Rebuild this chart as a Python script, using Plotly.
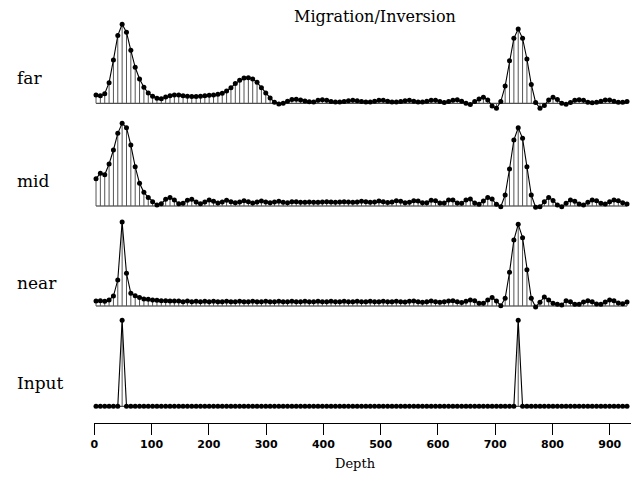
import plotly.graph_objects as go

# ---------------- data ----------------
depth_origin = 3.0
depth_step = 7.6
n_samples = 123
depth = [depth_origin + i * depth_step for i in range(n_samples)]

far = [0.097, 0.089, 0.112, 0.24, 0.504, 0.787, 0.919, 0.826, 0.616, 0.419,
       0.283, 0.186, 0.12, 0.081, 0.058, 0.054, 0.074, 0.089, 0.097, 0.097,
       0.089, 0.081, 0.078, 0.078, 0.081, 0.089, 0.093, 0.097, 0.105, 0.116,
       0.143, 0.182, 0.229, 0.267, 0.295, 0.298, 0.283, 0.244, 0.182, 0.12,
       0.062, 0.012, -0.008, 0.0, 0.023, 0.043, 0.047, 0.039, 0.027, 0.019,
       0.016,
       0.035, 0.04, 0.035, 0.02, 0.015, 0.015, 0.02, 0.03, 0.035, 0.03,
       0.02, 0.015, 0.015, 0.025, 0.035, 0.035, 0.025, 0.015, 0.015, 0.02,
       0.03, 0.035, 0.025, 0.015, 0.015, 0.025, 0.035, 0.035, 0.02, 0.01,
       0.02, 0.035, 0.04, 0.025, 0.0, -0.015, 0.02,
       0.05, 0.07, 0.038, -0.03, -0.058, 0.02, 0.2, 0.495, 0.755, 0.864,
       0.755, 0.515, 0.22, 0.01, -0.058, -0.027, 0.038, 0.07, 0.045,
       0.0, -0.01, 0.01, 0.035, 0.04, 0.035, 0.012, 0.005, 0.012, 0.025,
       0.038, 0.038, 0.025, 0.012, 0.012, 0.02]

mid = [0.318, 0.38, 0.364, 0.488, 0.651, 0.845, 0.961, 0.911, 0.709, 0.457,
       0.264, 0.159, 0.1, 0.05, 0.012, 0.027, 0.078, 0.1, 0.07, 0.027,
       0.031, 0.066, 0.078, 0.047, 0.027, 0.047, 0.07, 0.054, 0.035, 0.047,
       0.066, 0.05, 0.039, 0.047, 0.062, 0.05, 0.035, 0.047, 0.058, 0.047,
       0.039, 0.047, 0.054, 0.043, 0.039, 0.05, 0.05, 0.043, 0.043, 0.047,
       0.043,
       0.045, 0.047, 0.05, 0.047, 0.045, 0.047, 0.05, 0.047, 0.043, 0.047,
       0.054, 0.05, 0.043, 0.047, 0.058, 0.05, 0.04, 0.047, 0.062, 0.054,
       0.039, 0.043, 0.062, 0.058, 0.039, 0.039, 0.066, 0.062, 0.035, 0.035,
       0.07, 0.07, 0.035, 0.031, 0.07, 0.08, 0.035,
       0.02, 0.058, 0.1, 0.08, 0.02, -0.008, 0.128, 0.43, 0.767, 0.91,
       0.787, 0.457, 0.128, -0.015, -0.01, 0.05, 0.1, 0.065, 0.012,
       -0.008, 0.031, 0.07, 0.054, 0.023, 0.012, 0.043, 0.07, 0.062, 0.031,
       0.023, 0.05, 0.07, 0.062, 0.039, 0.023]

near = [0.058, 0.062, 0.054, 0.07, 0.116, 0.302, 0.977, 0.38, 0.147, 0.12,
        0.1, 0.081, 0.078, 0.07, 0.066, 0.062, 0.062, 0.058, 0.058, 0.058,
        0.05, 0.058, 0.05,
        0.054, 0.05, 0.054, 0.05, 0.054, 0.05, 0.05, 0.054, 0.05, 0.05,
        0.054, 0.05, 0.05, 0.054, 0.05, 0.05, 0.054, 0.05, 0.05, 0.054,
        0.05, 0.05, 0.054, 0.05, 0.05, 0.054, 0.05, 0.05,
        0.054, 0.05, 0.05, 0.054, 0.05, 0.05, 0.054, 0.05, 0.05, 0.054,
        0.05, 0.05, 0.054, 0.05, 0.05, 0.054, 0.05, 0.05, 0.054,
        0.05, 0.047, 0.054, 0.058, 0.05, 0.043, 0.05, 0.058, 0.05, 0.043,
        0.05, 0.058, 0.062, 0.05, 0.04, 0.054, 0.07, 0.062,
        0.031, 0.031, 0.07, 0.1, 0.058, 0.004, 0.089, 0.391, 0.767, 0.95,
        0.795, 0.422, 0.089, -0.012, 0.043, 0.105, 0.07, 0.031, 0.019,
        0.012, 0.062, 0.05, 0.019, 0.019, 0.047, 0.062, 0.05, 0.023, 0.019,
        0.047, 0.07, 0.062, 0.035, 0.027, 0.047]

input_trace = [0.0] * 6 + [1.0] + [0.0] * 90 + [1.0] + [0.0] * 25

panel_names = ["far", "mid", "near", "Input"]
panel_values = [far, mid, near, input_trace]

x_ticks = [0, 100, 200, 300, 400, 500, 600, 700, 800, 900]
title_text = "Migration/Inversion"
x_title = "Depth"

# ---------------- layout geometry (pixels) ----------------
W, H = 631, 478
px_per_unit = 86.0
baselines_px = [103.3, 206.0, 306.0, 406.3]
lows = [-0.10, -0.10, -0.10, -0.19]
high = 1.0
x_left_px = 94.3
x_scale = 0.5727  # px per depth unit
x_max = (W - x_left_px) / x_scale


def fy(px):
    return 1 - px / H


fig = go.Figure()
layout = dict(
    width=W, height=H,
    margin=dict(l=0, r=0, t=0, b=0),
    paper_bgcolor="white", plot_bgcolor="rgba(0,0,0,0)",
    showlegend=False,
)

for k, (name, vals) in enumerate(zip(panel_names, panel_values)):
    idx = "" if k == 0 else str(k + 1)
    xa, ya = "x" + idx, "y" + idx
    B = baselines_px[k]
    lo = lows[k]
    top_px = B - high * px_per_unit
    bot_px = B - lo * px_per_unit

    # baseline
    fig.add_trace(go.Scatter(x=[depth[0], depth[-1]], y=[0, 0], mode="lines",
                             line=dict(color="#222", width=1),
                             xaxis=xa, yaxis=ya, hoverinfo="skip"))
    # stems
    sx, sy = [], []
    for d, v in zip(depth, vals):
        sx += [d, d, None]
        sy += [0, v, None]
    fig.add_trace(go.Scatter(x=sx, y=sy, mode="lines",
                             line=dict(color="#555", width=1),
                             xaxis=xa, yaxis=ya, hoverinfo="skip"))
    # line + dots
    fig.add_trace(go.Scatter(x=depth, y=vals, mode="lines+markers",
                             line=dict(color="black", width=1.1),
                             marker=dict(color="black", size=5),
                             cliponaxis=False,
                             xaxis=xa, yaxis=ya))

    last = (k == len(panel_names) - 1)
    layout["xaxis" + idx] = dict(
        domain=[x_left_px / W, 1.0], range=[0, x_max], anchor=ya,
        showgrid=False, zeroline=False,
        showline=last, linecolor="black", linewidth=1,
        ticks="outside" if last else "", ticklen=11, tickcolor="black",
        tickwidth=1,
        tickvals=x_ticks if last else [], showticklabels=last,
        tickfont=dict(family="DejaVu Sans", size=11, color="black",
                      weight="bold"),
        automargin=False,
    )
    if k > 0:
        layout["xaxis" + idx]["matches"] = "x"
    layout["yaxis" + idx] = dict(
        domain=[fy(bot_px), fy(top_px)], range=[lo, high], anchor=xa,
        visible=False, fixedrange=True,
    )

annotations = []
label_y_px = [78, 181, 283, 383]
for name, ypx in zip(panel_names, label_y_px):
    annotations.append(dict(text=name, x=15 / W, y=fy(ypx), xref="paper",
                            yref="paper", xanchor="left", yanchor="middle",
                            showarrow=False,
                            font=dict(family="DejaVu Serif", size=17,
                                      color="black")))
annotations.append(dict(text=title_text, x=375 / W, y=fy(17), xref="paper",
                        yref="paper", xanchor="center", yanchor="middle",
                        showarrow=False,
                        font=dict(family="DejaVu Serif", size=16,
                                  color="black")))
annotations.append(dict(text=x_title, x=355 / W, y=fy(463), xref="paper",
                        yref="paper", xanchor="center", yanchor="middle",
                        showarrow=False,
                        font=dict(family="DejaVu Serif", size=13,
                                  color="black")))
layout["annotations"] = annotations

fig.update_layout(**layout)
fig.write_html("out.html")
